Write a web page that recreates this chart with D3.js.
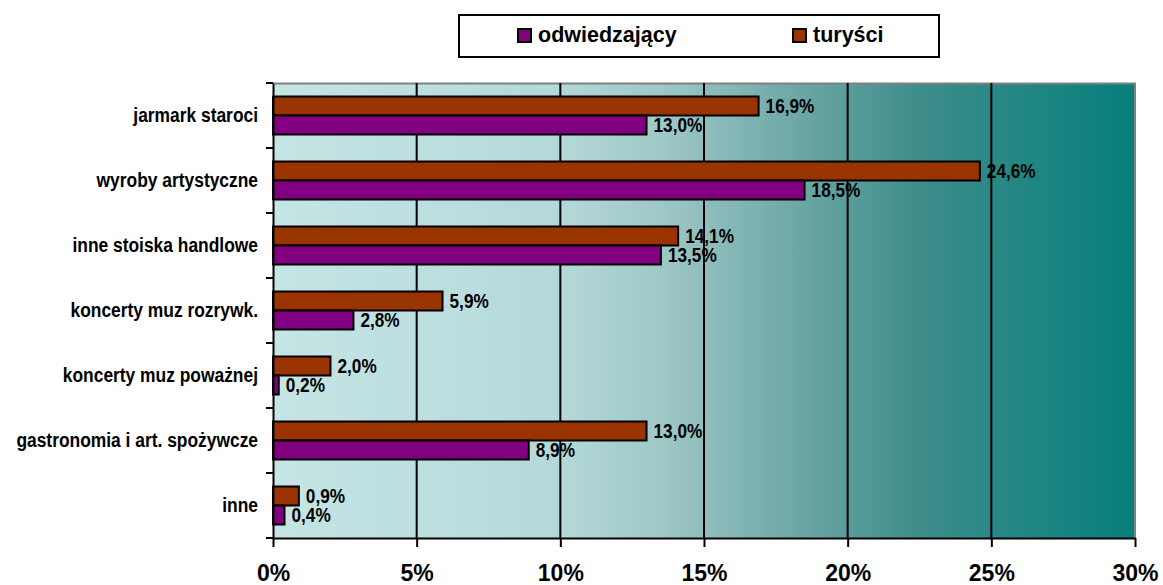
<!DOCTYPE html>
<html>
<head>
<meta charset="utf-8">
<script src="https://cdn.jsdelivr.net/npm/d3@7"></script>
<style>
  body { margin: 0; background: #fff; }
  svg { display: block; }
</style>
</head>
<body>
<svg width="1163" height="585"></svg>
<script>
const categories = ["jarmark staroci", "wyroby artystyczne", "inne stoiska handlowe",
  "koncerty muz rozrywk.", "koncerty muz poważnej", "gastronomia i art. spożywcze", "inne"];
const turysci = [16.9, 24.6, 14.1, 5.9, 2.0, 13.0, 0.9];
const odwiedzajacy = [13.0, 18.5, 13.5, 2.8, 0.2, 8.9, 0.4];
const xTicks = [0, 5, 10, 15, 20, 25, 30];

const seriesNames = ["turyści", "odwiedzający"];
const colors = { "turyści": "#993300", "odwiedzający": "#800080" };

const svg = d3.select("svg");
const margin = { top: 83, right: 28, bottom: 47, left: 273 };
const width = 1163 - margin.left - margin.right;
const height = 585 - margin.top - margin.bottom;

// no Arial Narrow here, so squeeze Liberation Sans horizontally
const font = "'Liberation Sans', Arial, sans-serif";
const catSquash = 0.87;
const valSquash = 0.82;

// background gradient
const defs = svg.append("defs");
const grad = defs.append("linearGradient").attr("id", "bg").attr("x1", "0").attr("x2", "1").attr("y1", "0").attr("y2", "0");
[[0, "#c6e5e5"], [0.33, "#b4d9d9"], [0.45, "#9fc8c7"], [0.6, "#6fa9a8"], [0.75, "#3e8d8b"], [1, "#057f7b"]]
  .forEach(([o, c]) => grad.append("stop").attr("offset", o).attr("stop-color", c));

const g = svg.append("g").attr("transform", `translate(${margin.left},${margin.top})`);

const x = d3.scaleLinear().domain([0, 30]).range([0, width]);
const y0 = d3.scaleBand().domain(categories).range([0, height]);
const y1 = d3.scaleBand().domain(seriesNames).range([y0.bandwidth() / 2 - 19, y0.bandwidth() / 2 + 19]);

g.append("rect").attr("width", width).attr("height", height).attr("fill", "url(#bg)");

// plot border (top/right grey)
g.append("path")
  .attr("d", `M0,0.5H${width}V${height}`)
  .attr("fill", "none").attr("stroke", "#808080").attr("stroke-width", 2);

// gridlines
g.selectAll(".grid").data(xTicks.filter(d => d > 0 && d < 30)).enter()
  .append("line")
  .attr("x1", d => x(d)).attr("x2", d => x(d))
  .attr("y1", 0).attr("y2", height)
  .attr("stroke", "#000").attr("stroke-width", 2);

// bars
const rows = categories.map((c, i) => ({ cat: c, vals: [
  { key: "turyści", value: turysci[i] },
  { key: "odwiedzający", value: odwiedzajacy[i] }
] }));

const bg = g.selectAll(".bar-group").data(rows).enter()
  .append("g").attr("transform", d => `translate(0,${y0(d.cat)})`);

bg.selectAll("rect").data(d => d.vals).enter()
  .append("rect")
  .attr("x", 0)
  .attr("y", d => y1(d.key))
  .attr("width", d => x(d.value))
  .attr("height", y1.bandwidth())
  .attr("fill", d => colors[d.key])
  .attr("stroke", "#000").attr("stroke-width", 2);

bg.selectAll("text").data(d => d.vals).enter()
  .append("text")
  .attr("transform", d => `translate(${x(d.value) + 7},${y1(d.key) + 16}) scale(${valSquash},1)`)
  .style("font-family", font)
  .style("font-weight", "bold")
  .style("font-size", "21px")
  .text(d => d.value.toFixed(1).replace(".", ",") + "%");

// x axis
const xAxis = g.append("g").attr("transform", `translate(0,${height})`)
  .call(d3.axisBottom(x).tickValues(xTicks).tickSizeInner(9).tickSizeOuter(0).tickPadding(18)
    .tickFormat(d => d + "%"));
xAxis.select(".domain").attr("stroke", "#000").attr("stroke-width", 2);
xAxis.selectAll(".tick line").attr("stroke", "#000").attr("stroke-width", 2);
xAxis.selectAll(".tick text")
  .style("font-family", font).style("font-weight", "bold").style("font-size", "23px").attr("fill", "#000");

// y axis
const yAxis = g.append("g")
  .call(d3.axisLeft(y0).tickSize(0).tickPadding(15));
yAxis.select(".domain").attr("stroke", "#000").attr("stroke-width", 2);
yAxis.selectAll(".tick text")
  .attr("x", -15 / catSquash)
  .attr("transform", `scale(${catSquash},1)`)
  .style("font-family", font).style("font-weight", "bold").style("font-size", "20px").attr("fill", "#000");

// category separator ticks
g.selectAll(".ytick").data(categories.concat(["_end"])).enter()
  .append("line")
  .attr("x1", -7).attr("x2", 0)
  .attr("y1", (d, i) => i < categories.length ? y0(d) : height)
  .attr("y2", (d, i) => i < categories.length ? y0(d) : height)
  .attr("stroke", "#000").attr("stroke-width", 2);

// legend
const legend = svg.append("g").attr("transform", "translate(459,15)");
legend.append("rect").attr("width", 480).attr("height", 42)
  .attr("fill", "#fff").attr("stroke", "#000").attr("stroke-width", 2);
const legendItems = [
  { label: "odwiedzający", x: 59 },
  { label: "turyści", x: 334 }
];
legendItems.forEach(d => {
  legend.append("rect").attr("x", d.x).attr("y", 14).attr("width", 13).attr("height", 13)
    .attr("fill", colors[d.label]).attr("stroke", "#000").attr("stroke-width", 2);
  legend.append("text").attr("x", d.x + 20).attr("y", 27)
    .style("font-family", font).style("font-weight", "bold").style("font-size", "21.5px")
    .text(d.label);
});
</script>
</body>
</html>
